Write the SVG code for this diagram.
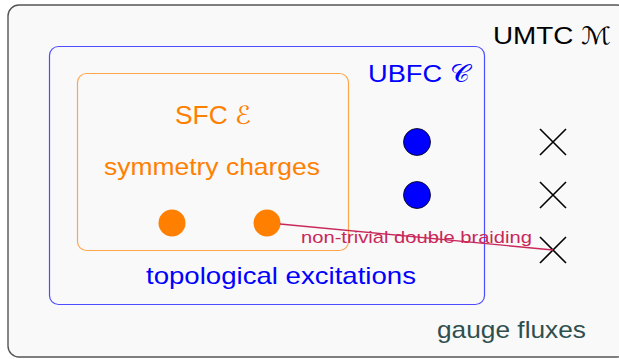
<svg xmlns="http://www.w3.org/2000/svg" width="619" height="359" viewBox="0 0 619 359">
<style>
text{font-family:"Liberation Sans","DejaVu Sans",sans-serif;font-size:24px}
.ch{fill:#ff8000}
.bl{fill:#0000ff}
.cross{stroke:#000;stroke-width:1.6;fill:none}
</style>
<rect width="619" height="359" fill="#fff"/>
<g id="umtc">
<rect x="8" y="5" width="620" height="352" rx="11" fill="#f9f9f9" stroke="#555" stroke-width="1.4"/>
<text x="493" y="44" fill="#000" textLength="118" lengthAdjust="spacingAndGlyphs">UMTC ℳ</text>
</g>
<g id="ubfc">
<rect x="49.5" y="46.5" width="435" height="258" rx="9" fill="none" stroke="#4d4dff" stroke-width="1.2"/>
<text x="368" y="82" class="bl" textLength="102" lengthAdjust="spacingAndGlyphs">UBFC 𝒞</text>
</g>
<g id="sfc">
<rect x="77.5" y="73.5" width="271" height="177" rx="9" fill="none" stroke="#ffa64d" stroke-width="1.2"/>
<text x="175" y="124" class="ch" style="font-size:25px" textLength="76" lengthAdjust="spacingAndGlyphs">SFC ℰ</text>
<text x="212" y="175" class="ch" text-anchor="middle" textLength="216" lengthAdjust="spacingAndGlyphs">symmetry charges</text>
</g>
<g id="charges">
<circle cx="172" cy="223" r="13.5" fill="#ff8000"/>
<circle cx="267" cy="223" r="13.5" fill="#ff8000"/>
</g>
<g id="anyons">
<circle cx="417" cy="142" r="13.5" fill="#0000ff" stroke="#000" stroke-width="0.8"/>
<circle cx="417" cy="195" r="13.5" fill="#0000ff" stroke="#000" stroke-width="0.8"/>
</g>
<g id="fluxes">
<path class="cross" d="M540 129L566 155M566 129L540 155"/>
<path class="cross" d="M540 182L566 208M566 182L540 208"/>
<path class="cross" d="M540 237L566 263M566 237L540 263"/>
</g>
<g id="connectors">
<line x1="280" y1="224" x2="553" y2="250" stroke="#c8285a" stroke-width="1.4"/>
</g>
<text x="301" y="243" fill="#c8285a" style="font-size:17px" textLength="231" lengthAdjust="spacingAndGlyphs">non-trivial double braiding</text>
<text x="146" y="284" class="bl" textLength="270" lengthAdjust="spacingAndGlyphs">topological excitations</text>
<text x="437" y="338" fill="#2f4f4f" textLength="149" lengthAdjust="spacingAndGlyphs">gauge fluxes</text>
</svg>
